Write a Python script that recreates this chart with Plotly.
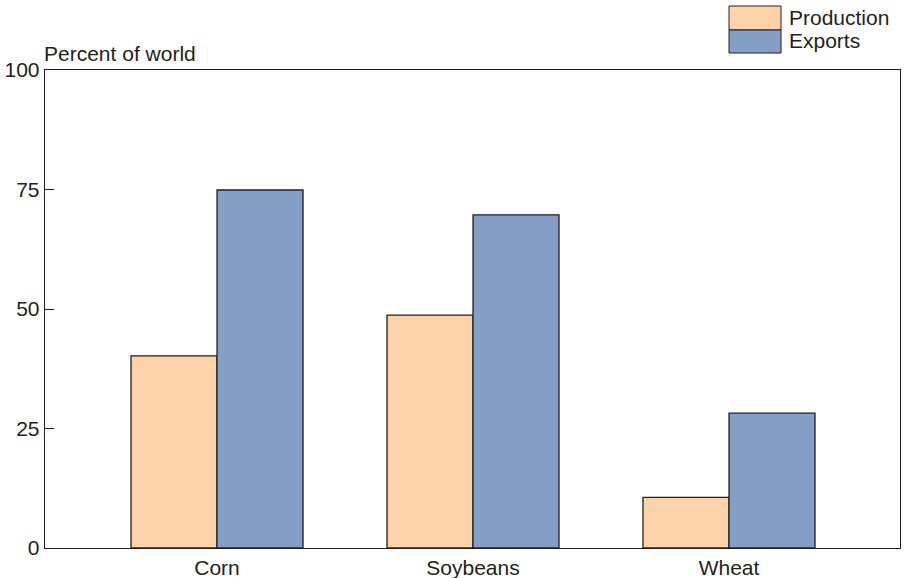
import plotly.graph_objects as go

categories = ["Corn", "Soybeans", "Wheat"]
production = [40.2, 48.7, 10.6]
exports = [74.9, 69.7, 28.2]
series_names = ["Production", "Exports"]
colors = ["#FCD3A8", "#849FC6"]
y_ticks = [0, 25, 50, 75, 100]

FONT = "Liberation Sans, Arial, sans-serif"
TXT = "#231F20"
FS = 21

fig = go.Figure()
for name, vals, col in zip(series_names, [production, exports], colors):
    fig.add_trace(go.Bar(
        x=categories, y=vals, name=name,
        marker=dict(color=col, line=dict(color=TXT, width=1.3)),
        showlegend=False, hoverinfo="skip",
    ))

fig.update_layout(
    width=905, height=578,
    margin=dict(l=45, r=5, t=70, b=30, autoexpand=False),
    barmode="group", bargap=0.328, bargroupgap=0,
    plot_bgcolor="white", paper_bgcolor="white",
    font=dict(family=FONT, size=FS, color=TXT),
    xaxis=dict(range=[-0.672, 2.668], showline=True, linecolor=TXT, linewidth=1.3,
               mirror=True, ticks="", showgrid=False, tickfont=dict(size=FS),
               automargin=False),
    yaxis=dict(range=[0, 100], tickvals=y_ticks, showline=True, linecolor=TXT,
               linewidth=1.3, mirror=True, ticks="inside", ticklen=9, tickcolor=TXT,
               showgrid=False, zeroline=False, tickfont=dict(size=FS),
               automargin=False),
)

fig.add_annotation(text="Percent of world", xref="paper", yref="paper", x=0, y=1,
                   xanchor="left", yanchor="bottom", xshift=-3, yshift=3,
                   showarrow=False, font=dict(size=FS, color=TXT))

# legend drawn as swatches + labels, positions relative to plot area
def px_x(p):
    return (p - 45) / 855
def px_y(p):
    return (548 - p) / 478

sw = [(6, 30), (30, 53)]
for (t, b), col, name in zip(sw, colors, series_names):
    fig.add_shape(type="rect", xref="paper", yref="paper",
                  x0=px_x(729), x1=px_x(781), y0=px_y(b), y1=px_y(t),
                  fillcolor=col, line=dict(color=TXT, width=1))
    fig.add_annotation(text=name, xref="paper", yref="paper", x=px_x(787),
                       y=px_y((t + b) / 2 - 1), xanchor="left", yanchor="middle",
                       showarrow=False, font=dict(size=FS, color=TXT))

fig.write_html(
    "out.html",
    config={"displayModeBar": False, "staticPlot": True},
    post_script="document.body.style.margin='0';document.body.style.padding='0';"
                "document.body.style.overflow='hidden';",
)
